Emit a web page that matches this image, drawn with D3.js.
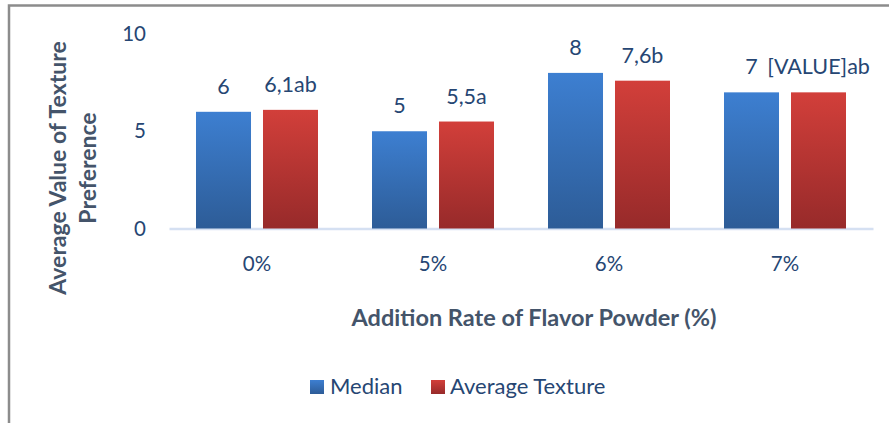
<!DOCTYPE html>
<html><head><meta charset="utf-8">
<script src="https://cdn.jsdelivr.net/npm/d3@7"></script>
<style>html,body{margin:0;padding:0;background:#fff;overflow:hidden}</style>
</head><body>
<svg id="chart" width="889" height="423"></svg>
<script>
const categories = ["0%", "5%", "6%", "7%"];
const seriesNames = ["Median", "Average Texture"];
const medianValues = [6, 5, 8, 7];
const averageValues = [6.1, 5.5, 7.6, 7];
const medianLabels = ["6", "5", "8", "7"];
const averageLabels = ["6,1ab", "5,5a", "7,6b", "[VALUE]ab"];
const yTicks = [0, 5, 10];

const FONT = "Lato, 'Open Sans', sans-serif";
const labelColor = "#264673";
const titleColor = "#44546A";

const svg = d3.select("#chart");
const defs = svg.append("defs");
const grads = [
  {id: "gBlue", top: "#3D7FD1", bottom: "#2D5C97"},
  {id: "gRed", top: "#D23F3A", bottom: "#972A2A"}
];
grads.forEach(g => {
  const lg = defs.append("linearGradient").attr("id", g.id).attr("x1", 0).attr("y1", 0).attr("x2", 0).attr("y2", 1);
  lg.append("stop").attr("offset", "0%").attr("stop-color", g.top);
  lg.append("stop").attr("offset", "100%").attr("stop-color", g.bottom);
});
const fills = ["url(#gBlue)", "url(#gRed)"];

// outer border (top + left visible)
svg.append("rect").attr("x", 9).attr("y", 5.5).attr("width", 900).attr("height", 430)
  .attr("fill", "none").attr("stroke", "#8c8c8c").attr("stroke-width", 2.5);

const x0 = d3.scaleBand().domain(categories).range([169, 873]).padding(0);
const x1 = d3.scaleBand().domain(seriesNames).range([27, 149]).paddingInner(0.179).paddingOuter(0);
const y = d3.scaleLinear().domain([0, 10]).range([228.5, 34]);

// y tick labels
const yAxis = d3.axisLeft(y).tickValues(yTicks).tickSize(0).tickPadding(0).tickFormat(d3.format("d"));
const ya = svg.append("g").attr("transform", "translate(146,0)").call(yAxis);
ya.select(".domain").remove();
ya.selectAll("text").attr("font-family", FONT).attr("font-size", 20.5).attr("fill", labelColor);

// x axis
const xAxis = d3.axisBottom(x0).tickSize(0).tickPadding(28);
const xa = svg.append("g").attr("transform", `translate(0,${y(0)})`).call(xAxis);
xa.select(".domain").attr("stroke", "#D5E0F2").attr("stroke-width", 2.5);
xa.selectAll("text").attr("font-family", FONT).attr("font-size", 20.5).attr("fill", labelColor);

const seriesValues = [medianValues, averageValues];
const seriesLabels = [medianLabels, averageLabels];

const groups = svg.append("g").selectAll("g").data(categories).join("g")
  .attr("transform", d => `translate(${x0(d)},0)`);

seriesNames.forEach((s, si) => {
  groups.append("rect")
    .attr("x", x1(s))
    .attr("width", x1.bandwidth())
    .attr("y", (d, i) => y(seriesValues[si][i]))
    .attr("height", (d, i) => y(0) - y(seriesValues[si][i]))
    .attr("fill", fills[si]);
  groups.append("text")
    .attr("x", x1(s) + x1.bandwidth() / 2)
    .attr("y", (d, i) => y(seriesValues[si][i]) - 18)
    .attr("text-anchor", "middle")
    .attr("font-family", FONT).attr("font-size", 21.5).attr("fill", labelColor)
    .text((d, i) => seriesLabels[si][i]);
});

// axis titles
svg.append("text").attr("x", 534).attr("y", 326).attr("text-anchor", "middle")
  .attr("font-family", FONT).attr("font-weight", "bold").attr("font-size", 23.5)
  .attr("fill", titleColor).text("Addition Rate of Flavor Powder (%)");

svg.append("text").attr("transform", "translate(66,168) rotate(-90)")
  .attr("font-family", FONT).attr("font-weight", "bold").attr("font-size", 23)
  .attr("fill", titleColor).attr("text-anchor", "middle").text("Average Value of Texture");
svg.append("text").attr("transform", "translate(96,168) rotate(-90)")
  .attr("font-family", FONT).attr("font-weight", "bold").attr("font-size", 23)
  .attr("fill", titleColor).attr("text-anchor", "middle").text("Preference");

// legend
const legendItems = [
  {name: seriesNames[0], sx: 310, tx: 330},
  {name: seriesNames[1], sx: 431, tx: 450}
];
legendItems.forEach((it, i) => {
  svg.append("rect").attr("x", it.sx).attr("y", 380).attr("width", 14).attr("height", 14).attr("fill", fills[i]);
  svg.append("text").attr("x", it.tx).attr("y", 394)
    .attr("font-family", FONT).attr("font-size", 22).attr("fill", labelColor).text(it.name);
});
</script>
</body></html>
